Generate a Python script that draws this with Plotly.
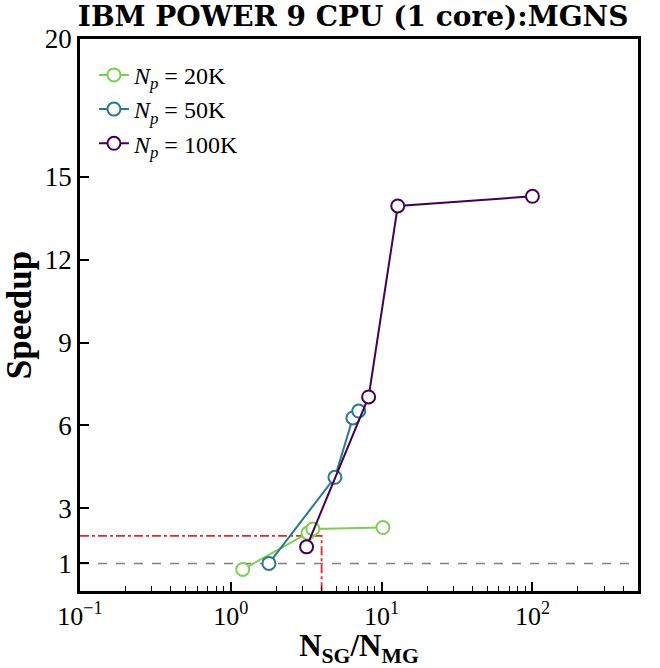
import plotly.graph_objects as go

# Data
x_20k = [1.2, 3.25, 3.5, 10.2]
y_20k = [0.78, 2.1, 2.25, 2.3]
x_50k = [1.79, 4.9, 6.45, 7.05]
y_50k = [1.0, 4.12, 6.27, 6.52]
x_100k = [3.18, 8.2, 12.8, 100]
y_100k = [1.6, 7.03, 13.95, 14.3]

labels = ["<i>N<sub>p</sub></i> = 20K", "<i>N<sub>p</sub></i> = 50K", "<i>N<sub>p</sub></i> = 100K"]
colors = ["#7ad151", "#2a788e", "#440154"]

x_ticks = [0.1, 1, 10, 100]
x_ticktext = ["10<sup>−1</sup>", "10<sup>0</sup>", "10<sup>1</sup>", "10<sup>2</sup>"]
x_minor = [m * d for d in [0.1, 1, 10, 100] for m in range(2, 10)]
y_ticks = [1, 3, 6, 9, 12, 15, 20]

ref_x = 4.0
ref_y = 2.0
base_y = 1.0

FONT = "Liberation Serif"
RED = "#e8262a"

fig = go.Figure()
fig.add_trace(go.Scatter(x=[0.1, ref_x, ref_x], y=[ref_y, ref_y, 0], mode="lines",
                         line=dict(color=RED, width=1.8, dash="dashdot"),
                         showlegend=False, hoverinfo="skip"))
for xs, ys, name, c in zip([x_20k, x_50k, x_100k], [y_20k, y_50k, y_100k], labels, colors):
    fig.add_trace(go.Scatter(
        x=xs, y=ys, mode="lines+markers", name=name,
        line=dict(color=c, width=2),
        marker=dict(symbol="circle", size=13, color="white", line=dict(color=c, width=2)),
    ))

# baseline speedup = 1
fig.add_shape(type="line", xref="paper", x0=0, x1=1, yref="y", y0=base_y, y1=base_y,
              line=dict(color="gray", width=1.5, dash="dash"), layer="below")

fig.update_layout(
    width=660, height=668,
    margin=dict(l=80, r=22, t=39, b=77, autoexpand=False),
    paper_bgcolor="white", plot_bgcolor="white",
    font=dict(family=FONT, color="black", size=26),
    title=dict(text="<b>IBM POWER 9 CPU (1 core):MGNS</b>", x=0.535, xanchor="center",
               y=0.99, yanchor="top", font=dict(size=28, family="DejaVu Serif")),
    legend=dict(x=0.025, y=0.975, xanchor="left", yanchor="top", bgcolor="rgba(0,0,0,0)",
                font=dict(size=24, family=FONT), tracegroupgap=0),
)
fig.update_xaxes(
    type="log", range=[-1, 2.7], tickvals=x_ticks, ticktext=x_ticktext,
    ticks="inside", ticklen=9, tickwidth=2, tickcolor="black",
    minor=dict(tickvals=x_minor, ticks="inside", ticklen=5, tickwidth=1, tickcolor="black", showgrid=False),
    showline=True, linewidth=2.5, linecolor="black", mirror=True,
    showgrid=False, zeroline=False, automargin=False,
    title=dict(text="<b>N<sub>SG</sub>/N<sub>MG</sub></b>", font=dict(size=31), standoff=11),
    tickfont=dict(size=26),
)
fig.update_yaxes(
    range=[0, 20], tickvals=y_ticks, ticktext=[str(v) for v in y_ticks],
    ticks="inside", ticklen=9, tickwidth=2, tickcolor="black",
    showline=True, linewidth=2.5, linecolor="black", mirror=True,
    showgrid=False, zeroline=False, automargin=False,
    title=dict(text="<b>Speedup</b>", font=dict(size=35), standoff=8),
    tickfont=dict(size=27),
)

fig.write_html("out.html")
